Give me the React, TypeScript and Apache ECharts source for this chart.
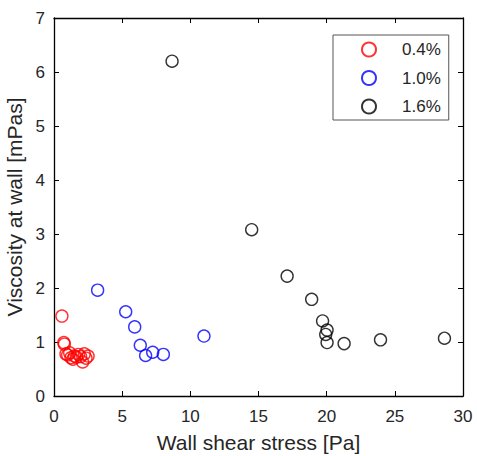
import React, { useEffect, useRef } from "react";
import * as echarts from "echarts";

const seriesNames = ["0.4%", "1.0%", "1.6%"];
const seriesColors = ["#ff0000", "#0000ff", "#000000"];

const red04: [number, number][] = [
  [0.58, 1.48], [0.72, 0.99], [0.76, 0.96], [0.88, 0.78], [1.0, 0.76],
  [1.15, 0.80], [1.25, 0.71], [1.38, 0.68], [1.5, 0.74], [1.65, 0.72],
  [1.8, 0.77], [1.95, 0.73], [2.1, 0.63], [2.22, 0.78], [2.35, 0.70],
  [2.5, 0.74],
];
const blue10: [number, number][] = [
  [3.2, 1.96], [5.26, 1.56], [5.92, 1.28], [6.33, 0.94], [6.72, 0.75],
  [7.24, 0.81], [8.02, 0.77], [11.0, 1.11],
];
const black16: [number, number][] = [
  [8.66, 6.2], [14.5, 3.08], [17.1, 2.22], [18.9, 1.79], [19.7, 1.39],
  [20.03, 1.22], [19.93, 1.14], [20.03, 0.99], [21.28, 0.97], [23.95, 1.04],
  [28.64, 1.07],
];
const allData = [red04, blue10, black16];

const FONT = "Liberation Sans, Arial, sans-serif";
const TXT = "#262626";

export default function App() {
  const ref = useRef<HTMLDivElement>(null);
  useEffect(() => {
    if (!ref.current) return;
    const chart = echarts.init(ref.current, null, { renderer: "svg" });
    const axisCommon = {
      axisLine: { show: true, onZero: false, lineStyle: { color: "#000", width: 1.3 } },
      axisTick: { show: true, inside: true, length: 5, lineStyle: { color: "#000", width: 1 } },
      splitLine: { show: false },
    };
    chart.setOption({
      animation: false,
      backgroundColor: "#fff",
      grid: { left: 54, right: 14, top: 18, bottom: 60, containLabel: false, outerBoundsMode: "none" },
      legend: {
        show: true,
        data: seriesNames,
        orient: "vertical",
        left: 333,
        top: 35,
        width: 115,
        padding: [6, 8, 5, 28],
        itemWidth: 14,
        itemHeight: 14,
        itemGap: 11.5,
        borderColor: "#555",
        borderWidth: 1,
        backgroundColor: "#fff",
        formatter: (n: string) => `{a|${n}}`,
        textStyle: {
          fontFamily: FONT,
          fontSize: 17,
          color: TXT,
          rich: { a: { fontFamily: FONT, fontSize: 17, color: TXT, padding: [0, 0, 0, 21] } },
        },
      },
      xAxis: [
        {
          type: "value",
          min: 0,
          max: 30,
          interval: 5,
          position: "bottom",
          name: "Wall shear stress [Pa]",
          nameLocation: "middle",
          nameGap: 36,
          nameTextStyle: { fontFamily: FONT, fontSize: 21, color: TXT },
          axisLabel: { fontFamily: FONT, fontSize: 17, color: TXT, margin: 12 },
          ...axisCommon,
        },
        {
          type: "value",
          min: 0,
          max: 30,
          interval: 5,
          position: "top",
          axisLabel: { show: false },
          ...axisCommon,
        },
      ],
      yAxis: [
        {
          type: "value",
          min: 0,
          max: 7,
          interval: 1,
          position: "left",
          name: "Viscosity at wall [mPas]",
          nameLocation: "middle",
          nameGap: 28,
          nameTextStyle: { fontFamily: FONT, fontSize: 21, color: TXT },
          axisLabel: { fontFamily: FONT, fontSize: 17, color: TXT, margin: 9 },
          ...axisCommon,
        },
        {
          type: "value",
          min: 0,
          max: 7,
          interval: 1,
          position: "right",
          axisLabel: { show: false },
          ...axisCommon,
        },
      ],
      series: seriesNames.map((name, i) => ({
        name,
        type: "scatter",
        xAxisIndex: 0,
        yAxisIndex: 0,
        symbol: "circle",
        symbolSize: 12,
        data: allData[i],
        itemStyle: { color: "rgba(255,255,255,0)", borderColor: seriesColors[i], borderWidth: 1.4 },
        emphasis: { disabled: true },
      })),
    });
    return () => chart.dispose();
  }, []);
  return <div ref={ref} style={{ width: 477, height: 456, position: "absolute", left: 0, top: 0 }} />;
}
